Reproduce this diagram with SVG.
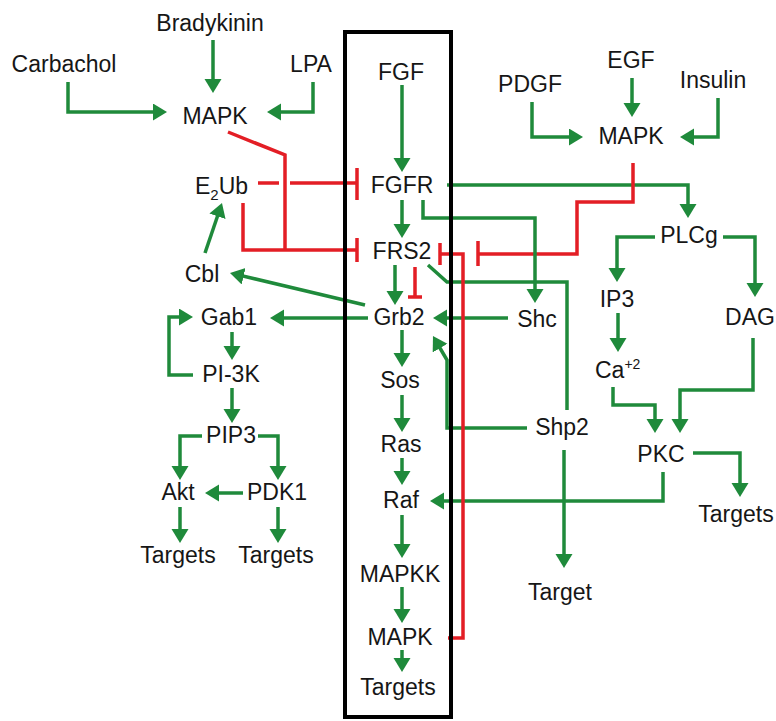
<svg xmlns="http://www.w3.org/2000/svg" width="776" height="721" viewBox="0 0 776 721">
<defs>
<marker id="ah" markerUnits="userSpaceOnUse" markerWidth="16" markerHeight="18" refX="10" refY="8.5" orient="auto">
<path d="M0,0 L14,8.5 L0,17 z" fill="#1f8a3b"/>
</marker>
<style>
text{font-family:"Liberation Sans",Arial,sans-serif;font-size:23px;fill:#161616;text-anchor:middle}
.g{fill:none;stroke:#1f8a3b;stroke-width:3.5}
.ga{fill:none;stroke:#1f8a3b;stroke-width:3.5;marker-end:url(#ah)}
.r{fill:none;stroke:#e31e25;stroke-width:3.5}
</style>
</defs>
<rect width="776" height="721" fill="#fff"/>
<g id="connectors">
<path class="ga" d="M213,40 V89"/>
<path class="ga" d="M68,82 V112 H163"/>
<path class="ga" d="M313,82 V112 H271"/>
<path class="ga" d="M402,85 V168"/>
<path class="ga" d="M402,200 V234"/>
<path class="ga" d="M395,265 V301"/>
<path class="ga" d="M402,330 V363"/>
<path class="ga" d="M402,395 V428"/>
<path class="ga" d="M402,458 V481"/>
<path class="ga" d="M402,515 V554"/>
<path class="ga" d="M402,587 V619"/>
<path class="ga" d="M402,650 V668"/>
<path class="ga" d="M632,78 V113"/>
<path class="ga" d="M532,102 V137 H579"/>
<path class="ga" d="M718,98 V137 H684"/>
<path class="ga" d="M447,185 H688 V214"/>
<path class="ga" d="M655,237 H617 V278"/>
<path class="ga" d="M723,237 H755 V293"/>
<path class="ga" d="M618,313 V348"/>
<path class="ga" d="M613,387 V405 H655 V429"/>
<path class="ga" d="M753,338 V390 H680 V429"/>
<path class="ga" d="M693,453 H740 V493"/>
<path class="ga" d="M663,472 V501 H434"/>
<path class="ga" d="M508,318 H437"/>
<path class="g" d="M428,265 L447,282 H567 V410"/>
<path class="ga" d="M527,428 H447 V360 L435,339.5"/>
<path class="ga" d="M564,450 V564"/>
<path class="ga" d="M365,305 L233.9,273.9"/>
<path class="ga" d="M205,253 L220.7,206.8"/>
<path class="ga" d="M368,318 H274"/>
<path class="ga" d="M232,332 V356"/>
<path class="ga" d="M193,375 H169 V317 H189"/>
<path class="ga" d="M232,388 V419"/>
<path class="ga" d="M202,436 H180 V476"/>
<path class="ga" d="M258,436 H278 V476"/>
<path class="ga" d="M243,493 H209"/>
<path class="ga" d="M180,507 V539"/>
<path class="ga" d="M278,507 V539"/>
<path class="r" d="M228,132 L285,155 V250"/>
<path class="r" d="M258,183 H279 M290,183 H357 M357,168 V200"/>
<path class="r" d="M243,203 V250 H357 M357,238 V262"/>
<path class="r" d="M633,163 V202 H577 V254 H478 M478,241 V266"/>
<path class="r" d="M448,638 H463 V254 H440 M440,243 V265"/>
<path class="r" d="M415,267 V297 M408,297 H422"/>
<path class="ga" d="M423,200 V218 H535 V299"/>
</g>
<rect id="box" x="345" y="32" width="106" height="685" fill="none" stroke="#000" stroke-width="4"/>
<g id="n-bradykinin"><text x="210" y="31">Bradykinin</text></g>
<g id="n-carbachol"><text x="64" y="72">Carbachol</text></g>
<g id="n-lpa"><text x="311" y="72">LPA</text></g>
<g id="n-mapk-left"><text x="215" y="124">MAPK</text></g>
<g id="n-e2ub"><text x="195" y="194" style="text-anchor:start">E<tspan font-size="15" dy="6">2</tspan><tspan dy="-6">Ub</tspan></text></g>
<g id="n-cbl"><text x="202" y="282">Cbl</text></g>
<g id="n-fgf"><text x="401" y="80">FGF</text></g>
<g id="n-fgfr"><text x="402" y="193">FGFR</text></g>
<g id="n-frs2"><text x="402" y="259">FRS2</text></g>
<g id="n-grb2"><text x="399" y="325">Grb2</text></g>
<g id="n-sos"><text x="400" y="388">Sos</text></g>
<g id="n-ras"><text x="401" y="452">Ras</text></g>
<g id="n-raf"><text x="401" y="508">Raf</text></g>
<g id="n-mapkk"><text x="400" y="582">MAPKK</text></g>
<g id="n-mapk-center"><text x="400" y="645">MAPK</text></g>
<g id="n-targets-center"><text x="398" y="695">Targets</text></g>
<g id="n-egf"><text x="631" y="68">EGF</text></g>
<g id="n-pdgf"><text x="530" y="92">PDGF</text></g>
<g id="n-insulin"><text x="713" y="88">Insulin</text></g>
<g id="n-mapk-right"><text x="631" y="144">MAPK</text></g>
<g id="n-plcg"><text x="689" y="243">PLCg</text></g>
<g id="n-ip3"><text x="617" y="307">IP3</text></g>
<g id="n-dag"><text x="750" y="325">DAG</text></g>
<g id="n-ca"><text x="595" y="378" style="text-anchor:start">Ca<tspan font-size="14" dy="-9">+2</tspan></text></g>
<g id="n-pkc"><text x="661" y="462">PKC</text></g>
<g id="n-targets-right"><text x="736" y="522">Targets</text></g>
<g id="n-shc"><text x="537" y="327">Shc</text></g>
<g id="n-shp2"><text x="562" y="435">Shp2</text></g>
<g id="n-target"><text x="560" y="600">Target</text></g>
<g id="n-gab1"><text x="229" y="325">Gab1</text></g>
<g id="n-pi3k"><text x="231" y="382">PI-3K</text></g>
<g id="n-pip3"><text x="231" y="443">PIP3</text></g>
<g id="n-akt"><text x="178" y="500">Akt</text></g>
<g id="n-pdk1"><text x="277" y="500">PDK1</text></g>
<g id="n-targets-akt"><text x="178" y="563">Targets</text></g>
<g id="n-targets-pdk1"><text x="276" y="563">Targets</text></g>
</svg>
